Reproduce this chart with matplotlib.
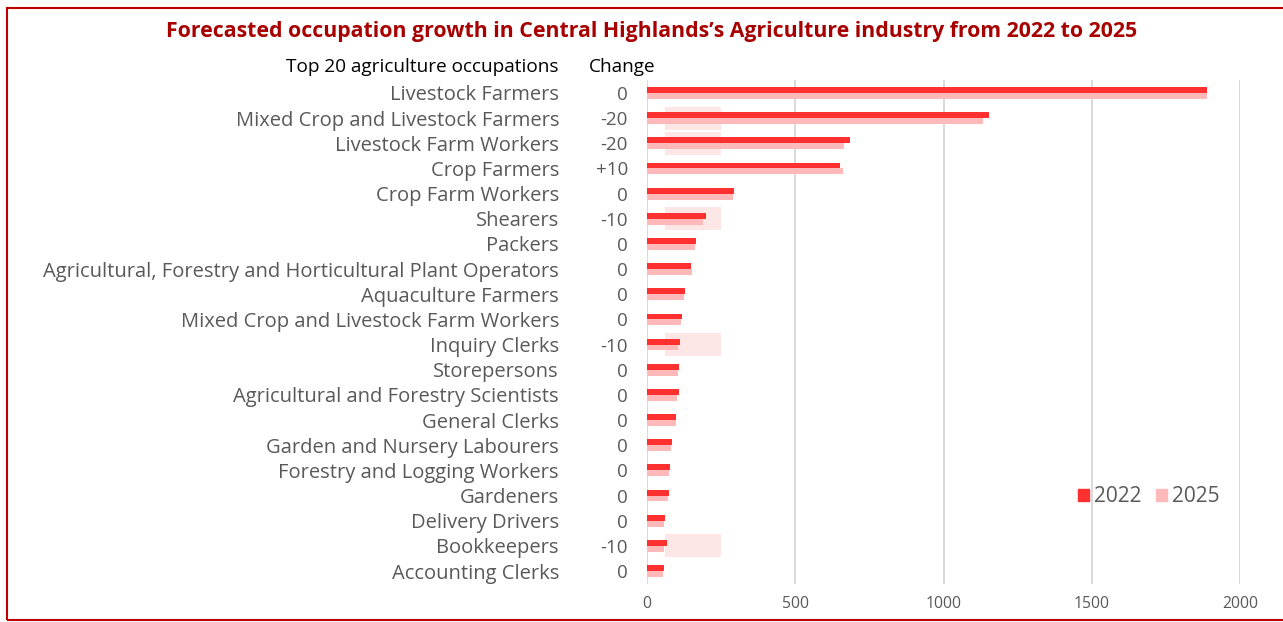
import numpy as np
import matplotlib
matplotlib.use('Agg')
import matplotlib.pyplot as plt
import matplotlib.transforms as transforms
from matplotlib.patches import Rectangle, Patch

plt.rcParams['font.family'] = ['Open Sans', 'DejaVu Sans']

# ------------------------------------------------------------------------------
# Data
# ------------------------------------------------------------------------------
occupations = [
    'Livestock Farmers',
    'Mixed Crop and Livestock Farmers',
    'Livestock Farm Workers',
    'Crop Farmers',
    'Crop Farm Workers',
    'Shearers',
    'Packers',
    'Agricultural, Forestry and Horticultural Plant Operators',
    'Aquaculture Farmers',
    'Mixed Crop and Livestock Farm Workers',
    'Inquiry Clerks',
    'Storepersons',
    'Agricultural and Forestry Scientists',
    'General Clerks',
    'Garden and Nursery Labourers',
    'Forestry and Logging Workers',
    'Gardeners',
    'Delivery Drivers',
    'Bookkeepers',
    'Accounting Clerks',
]
values_2022 = [1890, 1154, 685, 652, 295, 198, 166, 150, 129, 119,
               110, 107, 108, 98, 85, 76, 74, 61, 67, 57]
values_2025 = [1890, 1133, 663, 660, 290, 188, 161, 153, 125, 116,
               103, 103, 101, 99, 82, 74, 71, 57, 57, 54]
change_labels = ['0', '-20', '-20', '+10', '0', '-10', '0', '0', '0', '0',
                 '-10', '0', '0', '0', '0', '0', '0', '0', '-10', '0']

# highlight band shown behind rows with a decline
highlight_start = 60
highlight_end = 250

# ------------------------------------------------------------------------------
# Plot
# ------------------------------------------------------------------------------
W, H = 1283, 622
fig = plt.figure(figsize=(W / 100, H / 100), dpi=100)
ax = fig.add_axes([647 / W, 1 - 583.6 / H, (1240 - 647) / W, (583.6 - 80.4) / H])

red = '#FF3030'
pink = '#FFB9B9'
label_grey = '#595959'

y = np.arange(len(occupations))
bar_h = 0.235

# highlight bands for negative changes
neg = [i for i, c in enumerate(change_labels) if c.startswith('-')]
ax.barh(neg, [highlight_end - highlight_start] * len(neg), left=highlight_start,
        height=0.92, color='#FDE6E6', zorder=1)

ax.barh(y - bar_h / 2, values_2022, height=bar_h, color=red, zorder=3)
ax.barh(y + bar_h / 2, values_2025, height=bar_h, color=pink, zorder=2)

ax.set_xlim(0, 2000)
ax.set_ylim(len(occupations) - 0.5, -0.5)
ax.set_xticks([0, 500, 1000, 1500, 2000])
ax.xaxis.grid(True, color='#D9D9D9', linewidth=1.4, zorder=0)
ax.set_axisbelow(True)
for s in ax.spines.values():
    s.set_visible(False)
ax.tick_params(axis='x', length=0, pad=9, labelsize=11.3, labelcolor=label_grey)

ax.set_yticks(y)
ax.set_yticklabels(occupations, fontsize=14.5, color=label_grey)
ax.tick_params(axis='y', length=0, pad=(647 - 559) * 0.72)

# change column
trans = transforms.blended_transform_factory(fig.transFigure, ax.transData)
for i, c in enumerate(change_labels):
    ax.text(628 / W, i, c, transform=trans, ha='right', va='center_baseline',
            fontsize=13.5, color=label_grey)

# headers
fig.text(558 / W, 1 - 67 / H, 'Top 20 agriculture occupations', ha='right', va='center',
         fontsize=13.7, color='black')
fig.text(589 / W, 1 - 67 / H, 'Change', ha='left', va='center',
         fontsize=13.7, color='black')

# title
fig.text(652 / W, 1 - 32 / H,
         'Forecasted occupation growth in Central Highlands\u2019s Agriculture industry from 2022 to 2025',
         ha='center', va='center', fontsize=15.3, fontweight='bold', color='#A80000')

# legend
handles = [Patch(color=red, label='2022'), Patch(color=pink, label='2025')]
leg = fig.legend(handles=handles, loc='center', bbox_to_anchor=(1149 / W, 1 - 497 / H),
                 ncol=2, frameon=False, fontsize=15, handlelength=0.53, handleheight=0.48,
                 handletextpad=0.24, columnspacing=0.67, borderpad=0)
for t in leg.get_texts():
    t.set_color(label_grey)

# outer frame
fig.patches.append(Rectangle((7 / W, 1 - 620 / H), 2, (620 - 8) / H, transform=fig.transFigure,
                             fill=False, edgecolor='#C00000', linewidth=1.5))

fig.savefig('out.png', dpi=100)
